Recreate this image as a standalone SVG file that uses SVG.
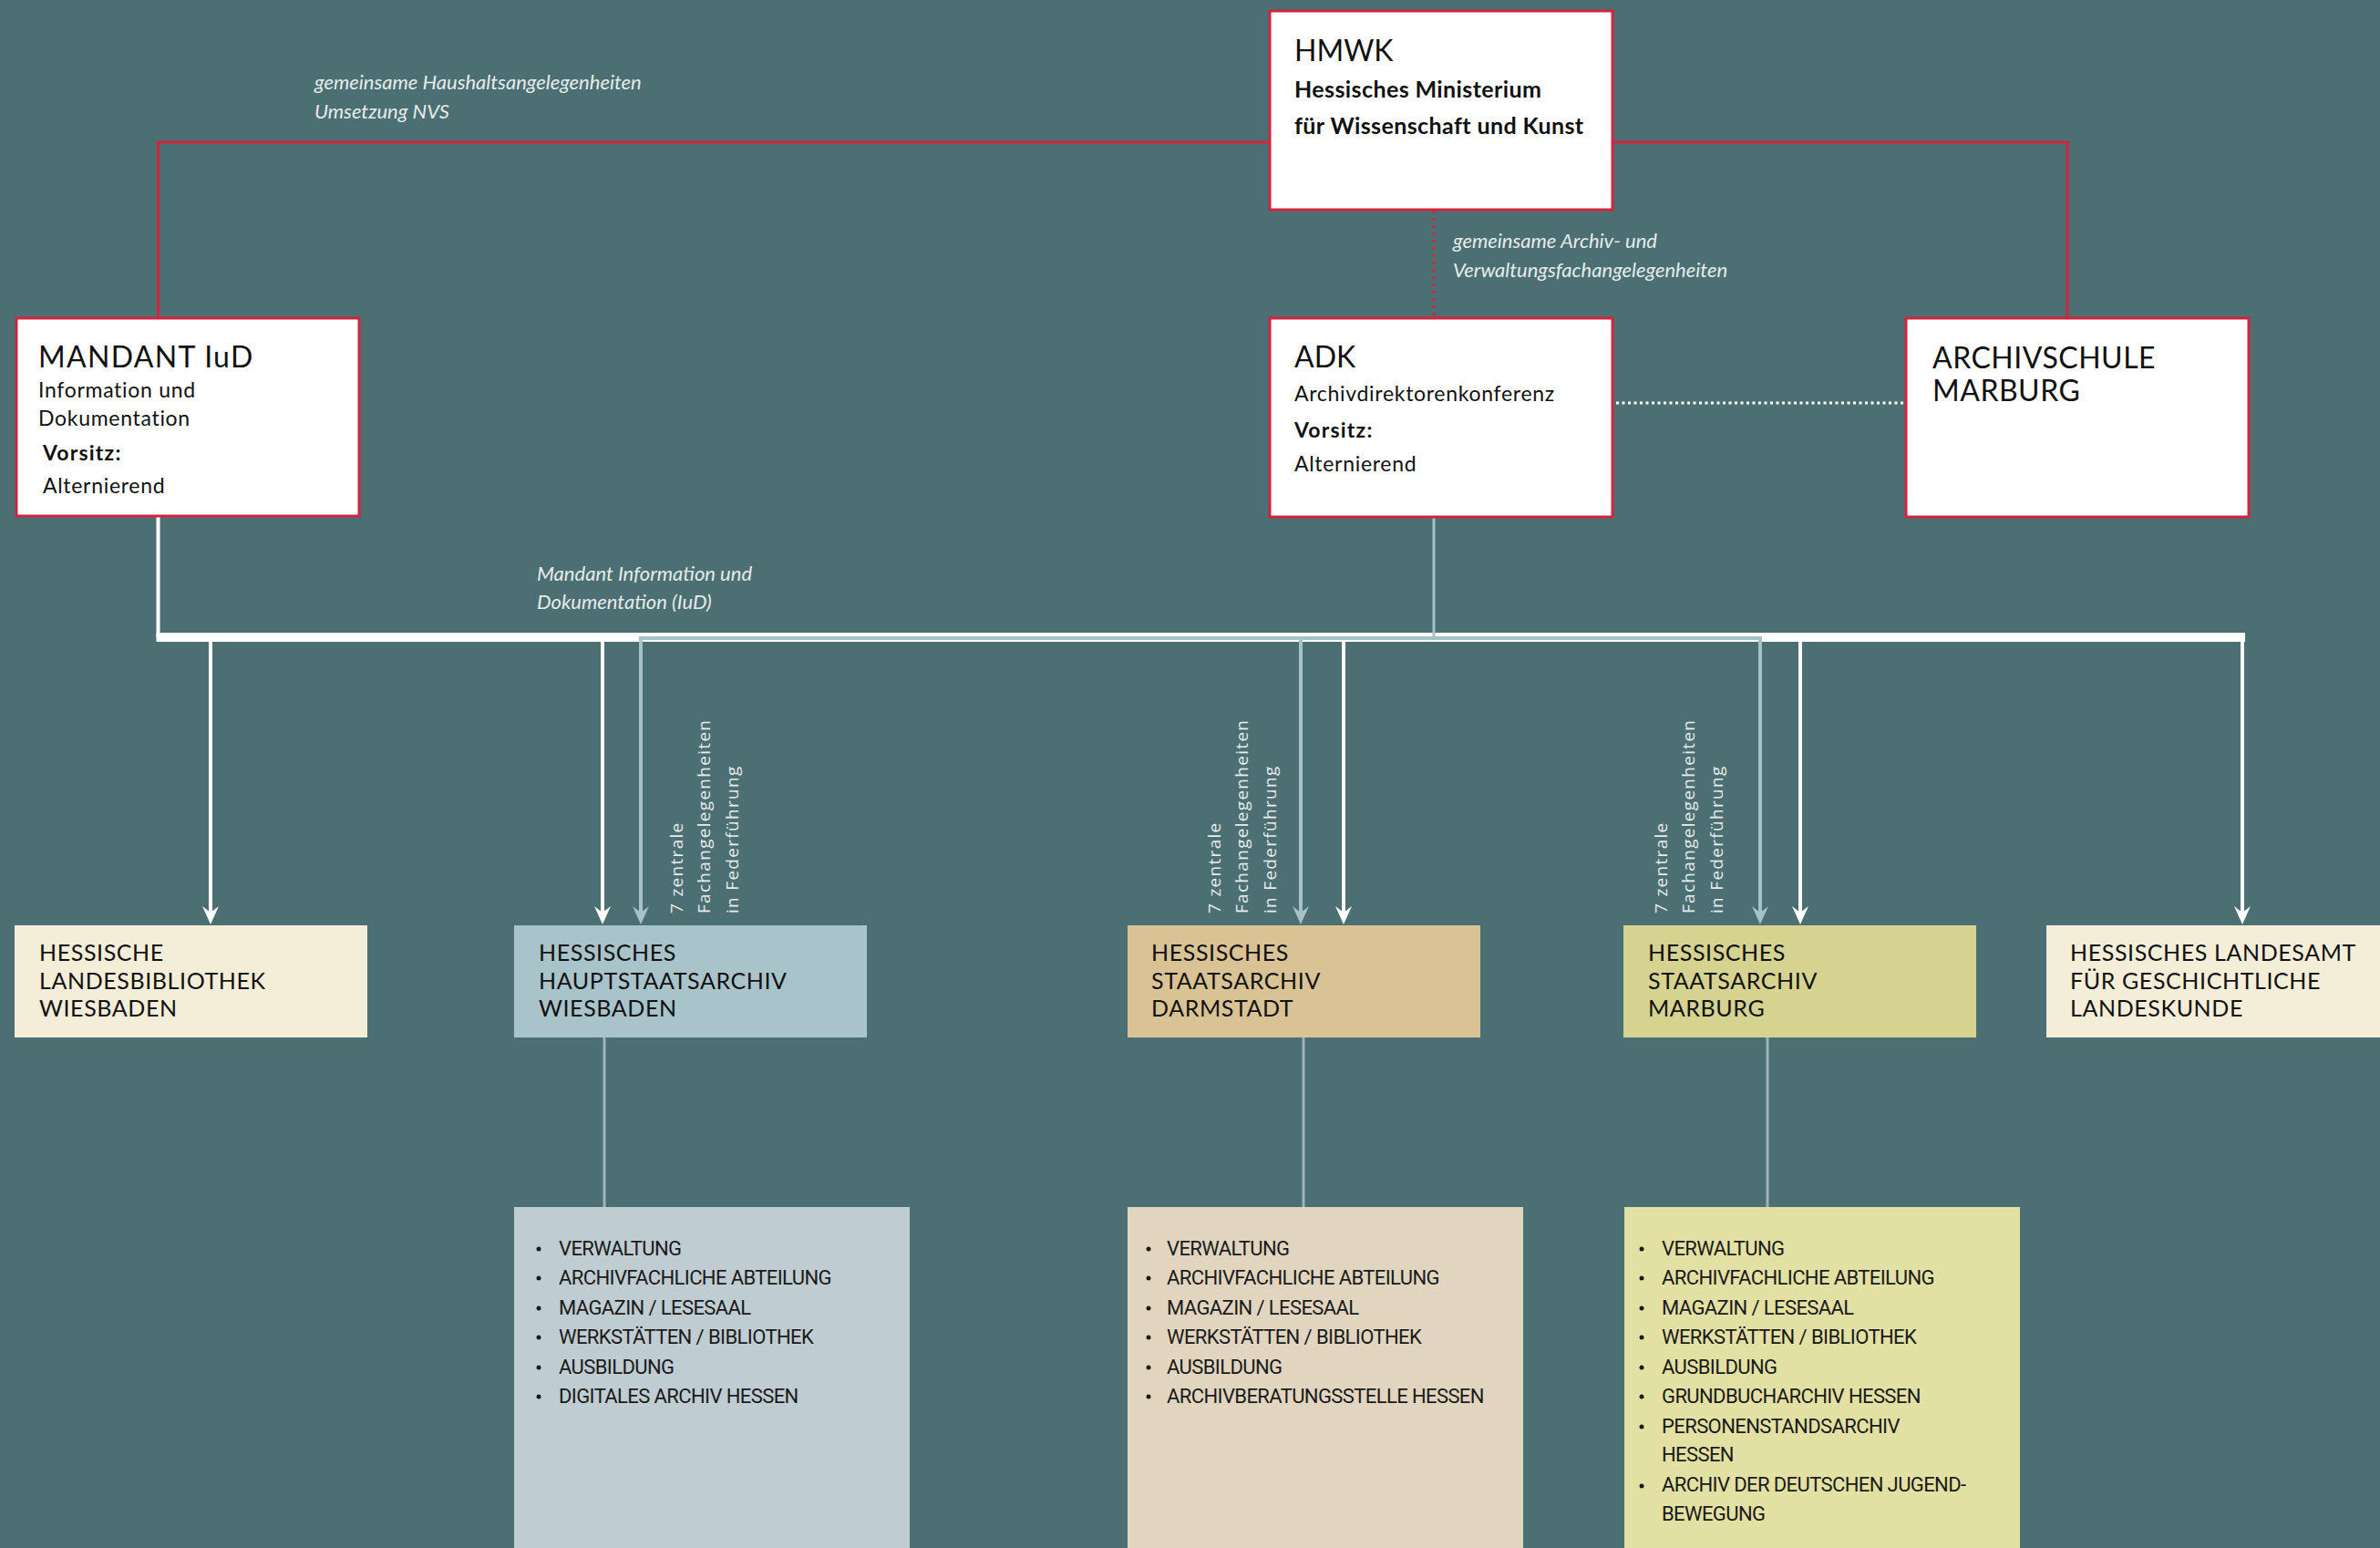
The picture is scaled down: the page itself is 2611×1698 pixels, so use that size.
<svg xmlns="http://www.w3.org/2000/svg" width="2611" height="1698" viewBox="0 0 2611 1698">
<defs>
<style>
.t{font-family:Lato,"Open Sans","Liberation Sans",sans-serif;fill:#111}
.h32{font-size:32px}
.s21{font-size:23px;letter-spacing:0.7px}
.b24{font-size:25px;font-weight:bold;letter-spacing:0.4px}
.b21{font-size:23px;font-weight:bold;letter-spacing:1.2px}
.h25{font-size:25px;letter-spacing:0.6px}
.redbox{fill:#fff;stroke:#d2243f;stroke-width:3}
.lbl{font-family:Lato,"Open Sans","Liberation Sans",sans-serif;font-style:italic;font-size:22px;fill:#e6ebec}
.rot{font-family:"Open Sans","Liberation Sans",sans-serif;font-size:19px;letter-spacing:1.3px;fill:#e6ebec}
.li{font-family:Roboto,"Liberation Sans",sans-serif;font-size:22px;letter-spacing:-0.6px;fill:#1a1a1a}
.red{stroke:#d2243f;stroke-width:3;fill:none}
.wh{stroke:#fff;stroke-width:4;fill:none}
.bl{stroke:#a7c1c8;stroke-width:4;fill:none}
.gr{stroke:#9db4bd;stroke-width:3;fill:none}
</style>
<marker id="aw" viewBox="-22 -10 24 20" refX="-11" refY="0" markerWidth="24" markerHeight="20" markerUnits="userSpaceOnUse" orient="auto">
<path d="M0,0 L-20,-9 L-13,0 L-20,9 Z" fill="#fff"/>
</marker>
<marker id="ab" viewBox="-22 -10 24 20" refX="-11" refY="0" markerWidth="24" markerHeight="20" markerUnits="userSpaceOnUse" orient="auto">
<path d="M0,0 L-20,-9 L-13,0 L-20,9 Z" fill="#a7c1c8"/>
</marker>
</defs>
<rect x="0" y="0" width="2611" height="1698" fill="#4c6f73"/>

<g id="connectors">
<path class="red" d="M173.5,349 V156 H2268 V349"/>
<path class="red" d="M1573,231 V349" stroke-dasharray="3 5"/>
<path d="M1773,442 H2090" stroke="#fff" stroke-width="3" stroke-dasharray="3 3.5" fill="none"/>
<path class="wh" d="M173.5,566 V699"/>
<rect x="171.5" y="694" width="2291.5" height="10" fill="#fff"/>
<path d="M1573,567 V700" stroke="#a7c1c8" stroke-width="3" fill="none"/>
<path class="bl" d="M703,1003 V700 H1931 V1003"/>
<path class="bl" d="M1427,700 V1003"/>
<path class="wh" d="M231,704 V1003" marker-end="url(#aw)"/>
<path class="wh" d="M661,704 V1003" marker-end="url(#aw)"/>
<path class="wh" d="M1474,704 V1003" marker-end="url(#aw)"/>
<path class="wh" d="M1975,704 V1003" marker-end="url(#aw)"/>
<path class="wh" d="M2460,704 V1003" marker-end="url(#aw)"/>
<path class="bl" d="M703,990 V1003" marker-end="url(#ab)"/>
<path class="bl" d="M1427,990 V1003" marker-end="url(#ab)"/>
<path class="bl" d="M1931,990 V1003" marker-end="url(#ab)"/>
<path class="gr" d="M663,1138 V1324"/>
<path class="gr" d="M1430,1138 V1324"/>
<path class="gr" d="M1939,1138 V1324"/>
</g>

<g id="labels">
<text class="lbl" x="345" y="98">gemeinsame Haushaltsangelegenheiten</text>
<text class="lbl" x="345" y="130">Umsetzung NVS</text>
<text class="lbl" x="1594" y="272">gemeinsame Archiv- und</text>
<text class="lbl" x="1594" y="304">Verwaltungsfachangelegenheiten</text>
<text class="lbl" x="589" y="637">Mandant Information und</text>
<text class="lbl" x="589" y="668">Dokumentation (IuD)</text>
<g transform="translate(749,1002) rotate(-90)"><text class="rot" x="0" y="0">7 zentrale</text><text class="rot" x="0" y="30">Fachangelegenheiten</text><text class="rot" x="0" y="61">in Federführung</text></g>
<g transform="translate(1339,1002) rotate(-90)"><text class="rot" x="0" y="0">7 zentrale</text><text class="rot" x="0" y="30">Fachangelegenheiten</text><text class="rot" x="0" y="61">in Federführung</text></g>
<g transform="translate(1829,1002) rotate(-90)"><text class="rot" x="0" y="0">7 zentrale</text><text class="rot" x="0" y="30">Fachangelegenheiten</text><text class="rot" x="0" y="61">in Federführung</text></g>
</g>

<g id="hmwk">
<rect class="redbox" x="1393" y="12" width="376" height="218"/>
<text class="t h32" x="1420" y="67">HMWK</text>
<text class="t b24" x="1420" y="107">Hessisches Ministerium</text>
<text class="t b24" x="1420" y="147">für Wissenschaft und Kunst</text>
</g>

<g id="mandant">
<rect class="redbox" x="18" y="349" width="376" height="217"/>
<text class="t h32" x="42" y="403" letter-spacing="1.3">MANDANT IuD</text>
<text class="t s21" x="42" y="436">Information und</text>
<text class="t s21" x="42" y="467">Dokumentation</text>
<text class="t b21" x="47" y="505">Vorsitz:</text>
<text class="t s21" x="47" y="541">Alternierend</text>
</g>

<g id="adk">
<rect class="redbox" x="1393" y="349" width="376" height="218"/>
<text class="t h32" x="1420" y="403">ADK</text>
<text class="t s21" x="1420" y="440">Archivdirektorenkonferenz</text>
<text class="t b21" x="1420" y="480">Vorsitz:</text>
<text class="t s21" x="1420" y="517">Alternierend</text>
</g>

<g id="archivschule">
<rect class="redbox" x="2091" y="349" width="376" height="218"/>
<text class="t h32" x="2120" y="404" letter-spacing="0.5">ARCHIVSCHULE</text>
<text class="t h32" x="2120" y="440" letter-spacing="0.5">MARBURG</text>
</g>

<g id="landesbibliothek">
<rect x="16" y="1015" width="387" height="123" fill="#f4edd7"/>
<text class="t h25" x="43" y="1054">HESSISCHE</text>
<text class="t h25" x="43" y="1085">LANDESBIBLIOTHEK</text>
<text class="t h25" x="43" y="1115">WIESBADEN</text>
</g>

<g id="hhstaw">
<rect x="564" y="1015" width="387" height="123" fill="#a9c3ca"/>
<text class="t h25" x="591" y="1054">HESSISCHES</text>
<text class="t h25" x="591" y="1085">HAUPTSTAATSARCHIV</text>
<text class="t h25" x="591" y="1115">WIESBADEN</text>
</g>

<g id="hstad">
<rect x="1237" y="1015" width="387" height="123" fill="#d9c395"/>
<text class="t h25" x="1263" y="1054">HESSISCHES</text>
<text class="t h25" x="1263" y="1085">STAATSARCHIV</text>
<text class="t h25" x="1263" y="1115">DARMSTADT</text>
</g>

<g id="hstam">
<rect x="1781" y="1015" width="387" height="123" fill="#d6d28f"/>
<text class="t h25" x="1808" y="1054">HESSISCHES</text>
<text class="t h25" x="1808" y="1085">STAATSARCHIV</text>
<text class="t h25" x="1808" y="1115">MARBURG</text>
</g>

<g id="landesamt">
<rect x="2245" y="1015" width="380" height="123" fill="#f4edd7"/>
<text class="t h25" x="2271" y="1054">HESSISCHES LANDESAMT</text>
<text class="t h25" x="2271" y="1085">FÜR GESCHICHTLICHE</text>
<text class="t h25" x="2271" y="1115">LANDESKUNDE</text>
</g>

<g id="hhstaw-list">
<rect x="564" y="1324" width="434" height="380" fill="#bfccd2"/>
<g fill="#1a1a1a"><circle cx="591" cy="1370" r="2.5"/><circle cx="591" cy="1402" r="2.5"/><circle cx="591" cy="1435" r="2.5"/><circle cx="591" cy="1467" r="2.5"/><circle cx="591" cy="1500" r="2.5"/><circle cx="591" cy="1532" r="2.5"/></g>
<text class="li" x="613" y="1377">VERWALTUNG</text>
<text class="li" x="613" y="1409">ARCHIVFACHLICHE ABTEILUNG</text>
<text class="li" x="613" y="1442">MAGAZIN / LESESAAL</text>
<text class="li" x="613" y="1474">WERKSTÄTTEN / BIBLIOTHEK</text>
<text class="li" x="613" y="1507">AUSBILDUNG</text>
<text class="li" x="613" y="1539">DIGITALES ARCHIV HESSEN</text>
</g>

<g id="hstad-list">
<rect x="1237" y="1324" width="434" height="380" fill="#e1d5bf"/>
<g fill="#1a1a1a"><circle cx="1260" cy="1370" r="2.5"/><circle cx="1260" cy="1402" r="2.5"/><circle cx="1260" cy="1435" r="2.5"/><circle cx="1260" cy="1467" r="2.5"/><circle cx="1260" cy="1500" r="2.5"/><circle cx="1260" cy="1532" r="2.5"/></g>
<text class="li" x="1280" y="1377">VERWALTUNG</text>
<text class="li" x="1280" y="1409">ARCHIVFACHLICHE ABTEILUNG</text>
<text class="li" x="1280" y="1442">MAGAZIN / LESESAAL</text>
<text class="li" x="1280" y="1474">WERKSTÄTTEN / BIBLIOTHEK</text>
<text class="li" x="1280" y="1507">AUSBILDUNG</text>
<text class="li" x="1280" y="1539">ARCHIVBERATUNGSSTELLE HESSEN</text>
</g>

<g id="hstam-list">
<rect x="1782" y="1324" width="434" height="380" fill="#e3e0a3"/>
<g fill="#1a1a1a"><circle cx="1801" cy="1370" r="2.5"/><circle cx="1801" cy="1402" r="2.5"/><circle cx="1801" cy="1435" r="2.5"/><circle cx="1801" cy="1467" r="2.5"/><circle cx="1801" cy="1500" r="2.5"/><circle cx="1801" cy="1532" r="2.5"/><circle cx="1801" cy="1565" r="2.5"/><circle cx="1801" cy="1630" r="2.5"/></g>
<text class="li" x="1823" y="1377">VERWALTUNG</text>
<text class="li" x="1823" y="1409">ARCHIVFACHLICHE ABTEILUNG</text>
<text class="li" x="1823" y="1442">MAGAZIN / LESESAAL</text>
<text class="li" x="1823" y="1474">WERKSTÄTTEN / BIBLIOTHEK</text>
<text class="li" x="1823" y="1507">AUSBILDUNG</text>
<text class="li" x="1823" y="1539">GRUNDBUCHARCHIV HESSEN</text>
<text class="li" x="1823" y="1572">PERSONENSTANDSARCHIV</text>
<text class="li" x="1823" y="1603">HESSEN</text>
<text class="li" x="1823" y="1636">ARCHIV DER DEUTSCHEN JUGEND-</text>
<text class="li" x="1823" y="1668">BEWEGUNG</text>
</g>
</svg>
